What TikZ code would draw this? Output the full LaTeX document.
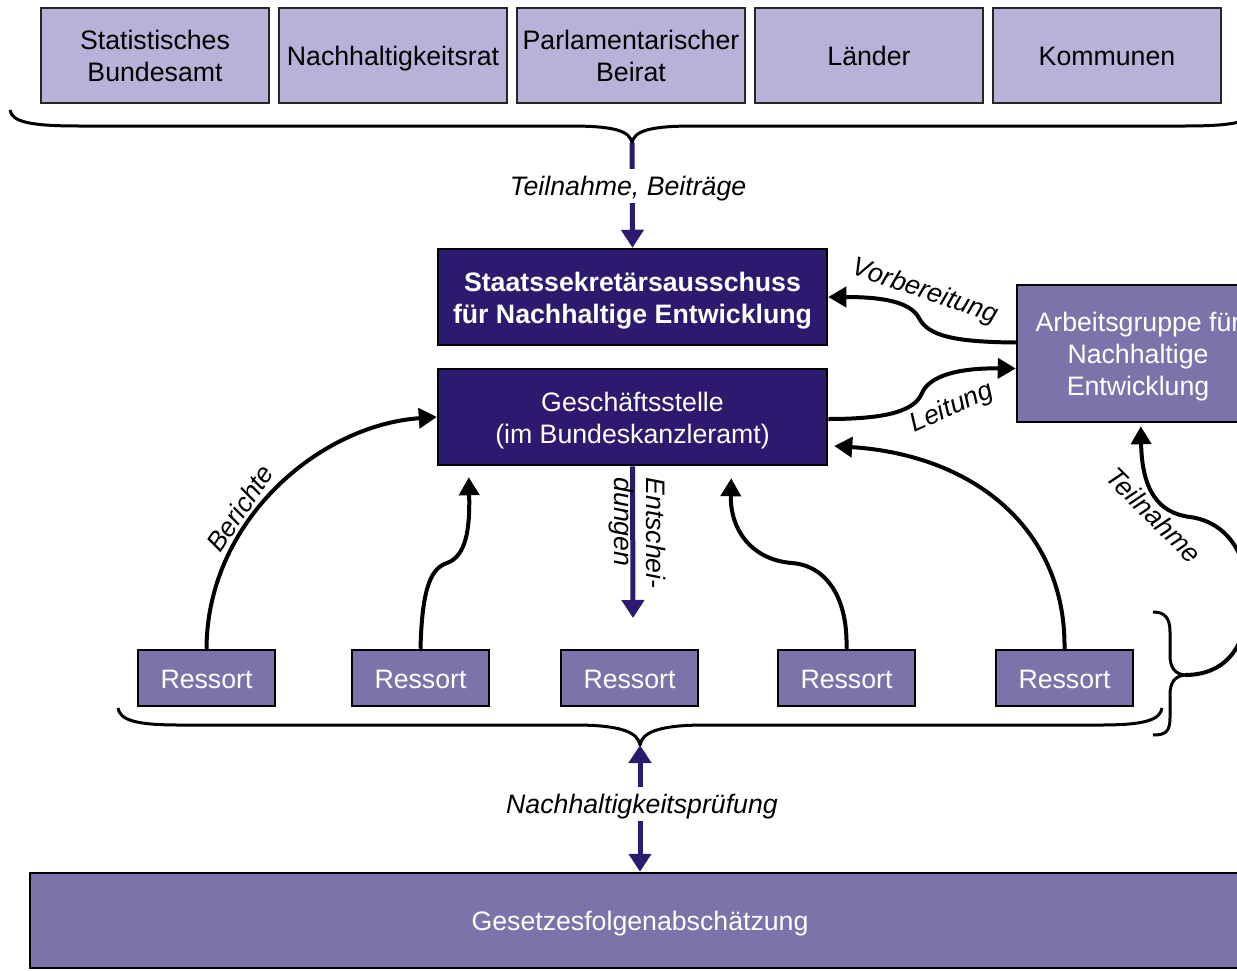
\documentclass[tikz,border=0pt]{standalone}
\usepackage{fontspec}
\setmainfont{Liberation Sans}
\usetikzlibrary{arrows.meta,calc}
\definecolor{dk}{HTML}{2B1A6E}
\definecolor{md}{HTML}{7D73AA}
\definecolor{lt}{HTML}{B9B1D7}
\newcommand\boxtxt[1]{\begin{tabular}{@{}c@{}}\rule{0pt}{29.6pt}#1\end{tabular}}
\begin{document}
\begin{tikzpicture}[x=1pt,y=-1pt,
  every node/.style={font=\fontsize{26.7}{32}\selectfont, inner sep=0pt},
  struts/.style={execute at begin node={\rule{0pt}{24.2pt}}, execute at end node={\rule[-5.7pt]{0pt}{0pt}}},
  topbox/.style={draw=black!85, line width=2.5pt, fill=lt, text=black, minimum width=228pt, minimum height=95pt},
  darkbox/.style={draw=black, line width=2.5pt, fill=dk, text=white, minimum width=389pt, minimum height=96pt},
  midbox/.style={draw=black, line width=2.5pt, fill=md, text=white},
  ressbox/.style={midbox, minimum width=137pt, minimum height=56pt},
  conn/.style={draw=black, line width=4pt, -{Triangle[length=18pt,width=20pt]}},
  bluearrow/.style={draw=dk, line width=5pt, -{Triangle[length=18pt,width=22pt]}},
  bracestyle/.style={draw=black, line width=3pt, line join=round},
  lbl/.style={font=\fontsize{26.7}{32}\selectfont\itshape, text=black}]
\useasboundingbox (0,0) rectangle (1237,970);
\clip (0,0) rectangle (1237,970);

% top boxes
\node[topbox] (sb) at (155,55.5) {\boxtxt{Statistisches\\Bundesamt}};
\node[topbox] (nr) at (393,55.5) {\boxtxt{Nachhaltigkeitsrat}};
\node[topbox] (pb) at (631,55.5) {\boxtxt{Parlamentarischer\\Beirat}};
\node[topbox] (la) at (869,55.5) {\boxtxt{Länder}};
\node[topbox] (ko) at (1107,55.5) {\boxtxt{Kommunen}};

% central boxes
\node[darkbox, font=\fontsize{26.7}{32}\selectfont\bfseries] (st) at (632.5,297) {\boxtxt{Staatssekretärsausschuss\\für Nachhaltige Entwicklung}};
\node[darkbox] (gs) at (632.5,417) {\boxtxt{Geschäftsstelle\\(im Bundeskanzleramt)}};
\node[midbox, minimum width=242pt, minimum height=137pt] (ag) at (1138,353.5) {\boxtxt{Arbeitsgruppe für\\Nachhaltige\\Entwicklung}};

% Ressorts
\node[ressbox] (r1) at (206.5,678) {\boxtxt{Ressort}};
\node[ressbox] (r2) at (420.5,678) {\boxtxt{Ressort}};
\node[ressbox] (r3) at (629.5,678) {\boxtxt{Ressort}};
\node[ressbox] (r4) at (846.5,678) {\boxtxt{Ressort}};
\node[ressbox] (r5) at (1064.5,678) {\boxtxt{Ressort}};

% bottom box
\node[midbox, minimum width=1220pt, minimum height=95pt] (gz) at (640,920.5) {\boxtxt{Gesetzesfolgenabschätzung}};

% braces
\coordinate (tb) at (632,143);
\draw[bracestyle] (10,110) .. controls (12,122) and (30,126) .. (80,126) -- (570,126)
  .. controls (615,126) and (630,131) .. (tb)
  .. controls (634,131) and (649,126) .. (694,126) -- (1184,126)
  .. controls (1234,126) and (1252,122) .. (1254,110);
\coordinate (bb) at (640,745);
\draw[bracestyle] (118,708) .. controls (120,720) and (135,725) .. (180,725) -- (575,725)
  .. controls (620,725) and (638,732) .. (bb)
  .. controls (642,732) and (660,725) .. (705,725) -- (1100,725)
  .. controls (1145,725) and (1160,720) .. (1162,708);
\coordinate (rb) at (1185,675);
\draw[bracestyle] (1153,612) .. controls (1165,612) and (1170,618) .. (1170,632) -- (1170,655)
  .. controls (1170,668) and (1175,674) .. (rb)
  .. controls (1175,676) and (1170,682) .. (1170,695) -- (1170,718)
  .. controls (1170,732) and (1165,735) .. (1153,735);

% blue arrows
\draw[bluearrow] (tb) -- (st.north);
\node[lbl, struts, fill=white, inner sep=2pt] (tlb) at (628,186) {Teilnahme, Beiträge};
\coordinate (ent) at (633,618);
\draw[bluearrow] (gs.south) -- (ent);
\node[lbl, rotate=-90, align=left] (entl) at (637,533) {Entschei-\\dungen};
\draw[bluearrow, {Triangle[length=18pt,width=22pt]}-{Triangle[length=18pt,width=22pt]}] (bb) -- (gz.north);
\node[lbl, struts, fill=white, inner sep=2pt] (npl) at (642,804) {Nachhaltigkeitsprüfung};

% black connectors
\draw[conn] (r1.north) .. controls (207,520) and (320,425) .. (gs.west);
\node[lbl, rotate=56] (berl) at (240,508) {Berichte};
\draw[conn] (r2.north) .. controls (422,585) and (432,568) .. (447,563)
  .. controls (466,556) and (470,530) .. ($(gs.south west)+(32,11)$);
\draw[conn] (r4.north) .. controls (848,592) and (822,565) .. (792,563)
  .. controls (752,560) and (730,530) .. ($(gs.south east)+(-97,12)$);
\draw[conn] (r5.north) .. controls (1066,530) and (975,455) .. ($(gs.east)+(6,29)$);
\draw[conn] ($(ag.west)+(0,-11)$) .. controls (955,342) and (928,336) .. (919,318)
  .. controls (910,301) and (880,297) .. (st.east);
\node[lbl, rotate=-19] (vbl) at (925,292) {Vorbereitung};
\draw[conn] ($(gs.east)+(0,2)$) .. controls (890,419) and (915,410) .. (922,393)
  .. controls (930,375) and (960,368) .. ($(ag.west)+(0,15)$);
\node[lbl, rotate=24] (ltl) at (952,408) {Leitung};
\draw[conn] (rb) .. controls (1230,675) and (1248,640) .. (1248,600)
  .. controls (1248,540) and (1215,520) .. (1190,517)
  .. controls (1158,513) and (1142,490) .. ($(ag.south west)+(125,3)$);
\node[lbl, rotate=-45] (tnl) at (1154,515) {Teilnahme};
\end{tikzpicture}
\end{document}
